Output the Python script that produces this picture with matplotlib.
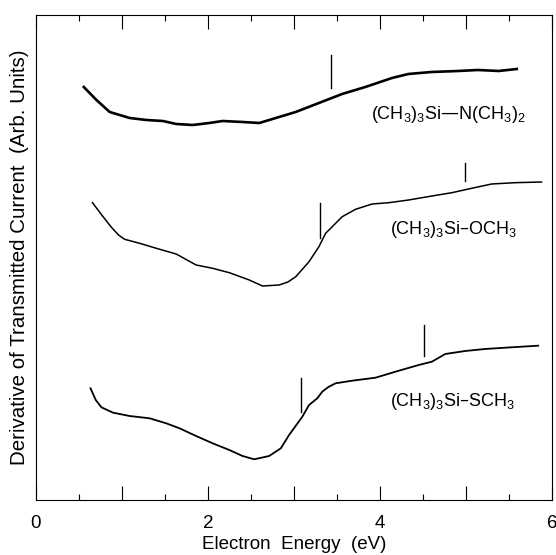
import numpy as np
import matplotlib
matplotlib.use("Agg")
import matplotlib.pyplot as plt

plt.rcParams['font.family'] = ['Liberation Sans', 'DejaVu Sans']
plt.rcParams['mathtext.default'] = 'regular'

# electron energy (eV) and derivative signal (arb. units)
x_n = [0.556, 0.703, 0.857, 1.089, 1.283, 1.475, 1.63, 1.823, 2.016, 2.17, 2.40, 2.596,
       2.789, 3.02, 3.29, 3.56, 3.83, 4.14, 4.33, 4.60, 4.91, 5.14, 5.38, 5.59]
y_n = [41.3, 40.0, 38.8, 38.2, 38.0, 37.9, 37.6, 37.5, 37.7, 37.9, 37.8, 37.7,
       38.2, 38.8, 39.7, 40.6, 41.3, 42.2, 42.6, 42.8, 42.9, 43.0, 42.9, 43.1]

x_o = [0.657, 0.780, 0.877, 0.96, 1.031, 1.205, 1.399, 1.630, 1.862, 2.054, 2.248, 2.480,
       2.634, 2.827, 2.93, 3.021, 3.175, 3.29, 3.368, 3.561, 3.716, 3.909, 4.102, 4.334,
       4.604, 4.836, 5.067, 5.299, 5.570, 5.878]
y_o = [29.73, 28.33, 27.27, 26.5, 26.07, 25.67, 25.17, 24.6, 23.5, 23.17, 22.73, 22.0,
       21.4, 21.5, 21.8, 22.33, 23.83, 25.33, 26.67, 28.33, 29.07, 29.6, 29.73, 30.0,
       30.4, 30.73, 31.17, 31.6, 31.73, 31.8]

x_s = [0.634, 0.695, 0.761, 0.896, 1.089, 1.321, 1.514, 1.669, 1.862, 2.054, 2.248, 2.402,
       2.538, 2.711, 2.847, 2.943, 3.097, 3.175, 3.271, 3.329, 3.40, 3.484, 3.677, 3.948,
       4.180, 4.450, 4.604, 4.759, 4.991, 5.222, 5.531, 5.840]
y_s = [11.17, 10.0, 9.27, 8.73, 8.4, 8.17, 7.67, 7.17, 6.4, 5.67, 5.0, 4.4,
       4.07, 4.4, 5.17, 6.5, 8.33, 9.5, 10.17, 10.83, 11.3, 11.67, 11.93, 12.23,
       12.83, 13.5, 13.83, 14.6, 14.9, 15.1, 15.27, 15.43]

# vertical markers: (energy, bottom, top)
marks = [(3.43, 41.2, 44.5),
         (3.30, 26.2, 29.7), (4.99, 31.9, 33.7),
         (3.08, 8.8, 12.2), (4.51, 14.4, 17.5)]

labels = ['(CH$_3$)$_3$Si\u2014N(CH$_3$)$_2$', '(CH$_3$)$_3$Si\u2013OCH$_3$',
          '(CH$_3$)$_3$Si\u2013SCH$_3$']
label_pos = [(3.89, 38.5), (4.12, 27.0), (4.12, 9.8)]

fig = plt.figure(figsize=(5.56, 5.55), dpi=100)
ax = fig.add_axes([0.0647, 0.0991, 0.9281, 0.8739])

ax.plot(x_n, y_n, color='black', lw=1.9, solid_joinstyle='round')
ax.plot(x_o, y_o, color='black', lw=1.1, solid_joinstyle='round')
ax.plot(x_s, y_s, color='black', lw=1.3, solid_joinstyle='round')

for xm, y0, y1 in marks:
    ax.plot([xm, xm], [y0, y1], color='black', lw=1.0)

for txt, (tx, ty) in zip(labels, label_pos):
    ax.text(tx, ty, txt, fontsize=13, va='center', ha='left')

ax.set_xlim(0, 6)
ax.set_ylim(0, 48.5)
ax.set_xticks([0, 1, 2, 3, 4, 5, 6])
ax.set_xticklabels(['0', '', '2', '', '4', '', '6'])
ax.set_xticks(np.arange(0.5, 6, 1.0), minor=True)
ax.set_yticks([])
ax.tick_params(axis='x', which='major', direction='in', length=10, width=0.8,
               top=True, labelsize=13.5, pad=11)
ax.tick_params(axis='x', which='minor', direction='in', length=4.5, width=0.8, top=True)
for sp in ax.spines.values():
    sp.set_linewidth(0.8)

ax.set_xlabel('Electron  Energy  (eV)', fontsize=13.5, labelpad=3)
ax.set_ylabel('Derivative of Transmitted Current  (Arb. Units)', fontsize=14.8, labelpad=5)

fig.savefig('out.png', dpi=100)
